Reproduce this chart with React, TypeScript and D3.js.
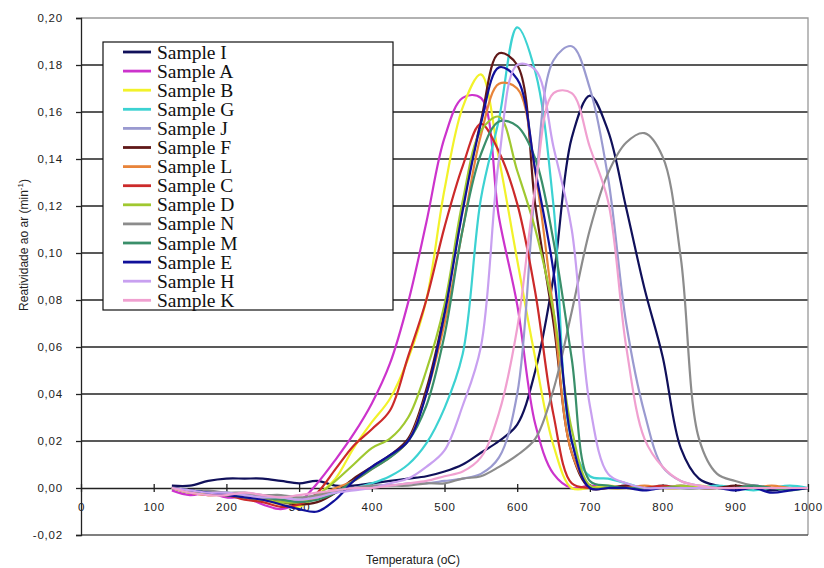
import React, { useEffect, useRef } from "react";
import * as d3 from "d3";

// temperatura (oC) onde os valores foram lidos
const temperatures = [
  125, 150, 175, 200, 225, 250, 275, 300, 325, 350, 375, 400, 425, 450, 475, 500, 525, 550,
  575, 600, 625, 650, 675, 700, 725, 750, 775, 800, 825, 850, 875, 900, 925, 950, 975, 1000,
];

const sampleI = [
  0.001, 0.001, 0.003, 0.004, 0.004, 0.004, 0.003, 0.002, 0.003, 0.001, 0.001, 0.002, 0.003, 0.004, 0.005, 0.007, 0.01, 0.015,
  0.02, 0.027, 0.05, 0.09, 0.149, 0.167, 0.152, 0.119, 0.085, 0.056, 0.017, 0.004, 0.001, 0.0, 0.0, -0.001, 0.0, 0.0,
];
const sampleA = [
  -0.001, -0.003, -0.002, -0.004, -0.004, -0.007, -0.009, -0.006, 0.002, 0.012, 0.023, 0.036, 0.053, 0.079, 0.113, 0.149, 0.166, 0.166,
  0.115, 0.078, 0.027, 0.006, 0.0, 0.001, 0.0, 0.001, 0.0, 0.0, 0.001, 0.0, 0.0, 0.0, 0.001, 0.0, 0.0, 0.0,
];
const sampleB = [
  0.0, -0.002, -0.003, -0.003, -0.004, -0.005, -0.007, -0.008, -0.003, 0.004, 0.017, 0.028, 0.038, 0.055, 0.08, 0.127, 0.162, 0.176,
  0.14, 0.097, 0.055, 0.018, 0.0, 0.0, 0.001, 0.0, 0.0, 0.0, 0.0, 0.001, 0.0, 0.0, 0.0, 0.0, 0.0, 0.0,
];
const sampleG = [
  0.0, -0.001, -0.002, -0.002, -0.003, -0.004, -0.004, -0.005, -0.004, -0.001, 0.0, 0.002, 0.005, 0.01, 0.019, 0.034, 0.057, 0.123,
  0.157, 0.196, 0.177, 0.12, 0.02, 0.005, 0.004, 0.002, 0.0, 0.001, 0.0, 0.0, 0.001, 0.0, -0.001, 0.0, 0.001, 0.0,
];
const sampleJ = [
  0.0, -0.001, -0.002, -0.003, -0.003, -0.004, -0.005, -0.005, -0.004, -0.002, 0.0, 0.001, 0.001, 0.002, 0.002, 0.003, 0.004, 0.006,
  0.013, 0.04, 0.128, 0.182, 0.188, 0.17, 0.132, 0.07, 0.032, 0.009, 0.003, 0.001, 0.0, 0.0, 0.001, 0.0, 0.0, 0.0,
];
const sampleF = [
  0.0, -0.001, -0.002, -0.003, -0.004, -0.005, -0.006, -0.007, -0.006, -0.002, 0.004, 0.009, 0.014, 0.021, 0.042, 0.075, 0.12, 0.156,
  0.185, 0.18, 0.12, 0.07, 0.015, 0.0, 0.0, 0.001, 0.0, 0.0, 0.0, 0.0, 0.0, 0.001, 0.0, 0.0, 0.0, 0.0,
];
const sampleL = [
  0.0, -0.001, -0.002, -0.003, -0.003, -0.004, -0.005, -0.006, -0.004, 0.0, 0.003, 0.008, 0.013, 0.02, 0.04, 0.07, 0.11, 0.15,
  0.172, 0.17, 0.134, 0.075, 0.015, 0.001, 0.0, 0.0, 0.001, 0.0, 0.0, 0.0, 0.0, 0.0, 0.0, 0.001, 0.0, 0.0,
];
const sampleC = [
  0.0, -0.002, -0.003, -0.003, -0.005, -0.006, -0.008, -0.007, -0.002, 0.008, 0.018, 0.025, 0.033, 0.056, 0.08, 0.111, 0.137, 0.155,
  0.143, 0.121, 0.083, 0.031, 0.002, 0.0, 0.0, 0.0, 0.0, 0.001, 0.0, 0.0, 0.0, 0.0, 0.0, 0.0, 0.0, 0.0,
];
const sampleD = [
  0.0, -0.002, -0.002, -0.003, -0.004, -0.005, -0.006, -0.006, -0.003, 0.003, 0.01, 0.017, 0.021, 0.03, 0.05, 0.078, 0.122, 0.152,
  0.158, 0.135, 0.11, 0.075, 0.025, 0.001, 0.0, 0.0, 0.0, 0.0, 0.001, 0.0, 0.0, 0.0, 0.0, 0.0, 0.0, 0.0,
];
const sampleN = [
  0.0, -0.001, -0.001, -0.002, -0.002, -0.003, -0.003, -0.004, -0.003, -0.001, 0.0, 0.001, 0.001, 0.001, 0.002, 0.002, 0.004, 0.005,
  0.009, 0.014, 0.021, 0.042, 0.075, 0.11, 0.134, 0.147, 0.151, 0.141, 0.098, 0.021, 0.006, 0.003, 0.001, 0.0, 0.0, 0.0,
];
const sampleM = [
  0.0, -0.001, -0.002, -0.003, -0.003, -0.004, -0.005, -0.006, -0.005, -0.002, 0.003, 0.008, 0.013, 0.02, 0.035, 0.065, 0.11, 0.142,
  0.156, 0.154, 0.14, 0.105, 0.055, 0.003, 0.001, 0.0, 0.0, 0.0, 0.0, 0.0, 0.0, 0.0, 0.001, 0.0, -0.001, 0.0,
];
const sampleE = [
  0.0, -0.001, -0.002, -0.003, -0.004, -0.005, -0.007, -0.009, -0.01, -0.005, 0.003, 0.009, 0.014, 0.02, 0.04, 0.074, 0.118, 0.155,
  0.179, 0.174, 0.135, 0.092, 0.02, 0.0, 0.0, 0.0, -0.001, 0.0, 0.0, 0.0, 0.0, -0.001, 0.0, -0.002, -0.001, 0.0,
];
const sampleH = [
  0.0, -0.001, -0.002, -0.002, -0.003, -0.004, -0.004, -0.005, -0.004, -0.002, -0.001, 0.0, 0.002, 0.004, 0.009, 0.016, 0.035, 0.06,
  0.14, 0.18, 0.178, 0.145, 0.11, 0.035, 0.006, 0.002, 0.0, 0.0, 0.0, 0.0, 0.0, 0.0, 0.0, 0.0, 0.0, 0.0,
];
const sampleK = [
  0.0, -0.002, -0.003, -0.003, -0.002, -0.003, -0.004, -0.003, -0.002, -0.001, 0.0, 0.0, 0.001, 0.002, 0.003, 0.005, 0.007, 0.013,
  0.032, 0.068, 0.128, 0.168, 0.168, 0.145, 0.122, 0.06, 0.021, 0.009, 0.003, 0.001, 0.0, 0.0, 0.0, 0.0, 0.0, 0.0,
];

const seriesNames = [
  "Sample I", "Sample A", "Sample B", "Sample G", "Sample J", "Sample F", "Sample L",
  "Sample C", "Sample D", "Sample N", "Sample M", "Sample E", "Sample H", "Sample K",
];
const seriesValues = [
  sampleI, sampleA, sampleB, sampleG, sampleJ, sampleF, sampleL,
  sampleC, sampleD, sampleN, sampleM, sampleE, sampleH, sampleK,
];
const seriesColors = [
  "#10105a", "#cc33cc", "#f2f22a", "#3cd2d2", "#9a9ad0", "#601818", "#e8843a",
  "#cc2a2a", "#a0c830", "#8c8c8c", "#3a8f6a", "#10109a", "#c8a0f0", "#f0a0d0",
];

const yTicks = [-0.02, 0, 0.02, 0.04, 0.06, 0.08, 0.1, 0.12, 0.14, 0.16, 0.18, 0.2];
const xTicks = [0, 100, 200, 300, 400, 500, 600, 700, 800, 900, 1000];

const App = () => {
  const svgRef = useRef<SVGSVGElement | null>(null);

  useEffect(() => {
    const svg = d3.select(svgRef.current);
    svg.selectAll("*").remove();

    const left = 81;
    const right = 808;
    const top = 18;
    const bottom = 535;
    const sans = "'Liberation Sans', Arial, sans-serif";

    const x = d3.scaleLinear().domain([0, 1000]).range([left, right]);
    const y = d3.scaleLinear().domain([-0.02, 0.2]).range([bottom, top]);
    const fmt = (v: number) => d3.format(".2f")(v).replace(".", ",").replace("−", "-");

    svg.append("rect").attr("width", 824).attr("height", 568).attr("fill", "#fff");

    // gridlines
    svg
      .append("g")
      .selectAll("line")
      .data(yTicks.filter((t) => t > 0.001 && t < 0.19))
      .enter()
      .append("line")
      .attr("x1", left)
      .attr("x2", right)
      .attr("y1", (d) => y(d))
      .attr("y2", (d) => y(d))
      .attr("stroke", "#222")
      .attr("stroke-width", 1.3);

    // plot frame (top, right, bottom)
    svg
      .append("path")
      .attr("d", `M${left},${y(0.2)}H${right}V${y(-0.02)}`)
      .attr("fill", "none")
      .attr("stroke", "#999")
      .attr("stroke-width", 1.3);
    svg
      .append("line")
      .attr("x1", left)
      .attr("x2", right)
      .attr("y1", y(-0.02))
      .attr("y2", y(-0.02))
      .attr("stroke", "#555")
      .attr("stroke-width", 1.3);

    // y axis
    const yAxis = svg
      .append("g")
      .attr("transform", `translate(${left},0)`)
      .call(d3.axisLeft(y).tickValues(yTicks).tickFormat((d) => fmt(+d)).tickSize(5).tickPadding(13));
    yAxis.select(".domain").attr("stroke", "#222").attr("stroke-width", 1.3);
    yAxis.selectAll(".tick line").attr("stroke", "#222").attr("stroke-width", 1.3);
    yAxis
      .selectAll("text")
      .style("font-family", sans)
      .style("font-size", "11.5px")
      .style("letter-spacing", "0.8px")
      .attr("fill", "#222");

    // x axis at zero
    const xAxis = svg
      .append("g")
      .attr("transform", `translate(0,${y(0)})`)
      .call(d3.axisBottom(x).tickValues(xTicks).tickFormat((d) => String(d)).tickSizeInner(4).tickSizeOuter(0).tickPadding(11));
    xAxis.select(".domain").attr("stroke", "#222").attr("stroke-width", 1.3);
    xAxis.selectAll(".tick line").attr("stroke", "#222").attr("stroke-width", 1.3).attr("y1", -4);
    xAxis
      .selectAll("text")
      .style("font-family", sans)
      .style("font-size", "11.5px")
      .style("letter-spacing", "0.8px")
      .attr("fill", "#222");

    // series
    const line = d3
      .line<number>()
      .x((_, i) => x(temperatures[i]))
      .y((d) => y(d))
      .curve(d3.curveCatmullRom.alpha(0.5));

    seriesValues.forEach((values, i) => {
      svg
        .append("path")
        .datum(values)
        .attr("fill", "none")
        .attr("stroke", seriesColors[i])
        .attr("stroke-width", 2.2)
        .attr("stroke-linejoin", "round")
        .attr("d", line);
    });

    // legend
    const legend = svg.append("g");
    legend
      .append("rect")
      .attr("x", 103)
      .attr("y", 42)
      .attr("width", 290)
      .attr("height", 268)
      .attr("fill", "#fff")
      .attr("stroke", "#111")
      .attr("stroke-width", 1.2);
    const rows = legend
      .selectAll("g.row")
      .data(seriesNames)
      .enter()
      .append("g")
      .attr("transform", (_, i) => `translate(0,${52 + i * 19.1})`);
    rows
      .append("line")
      .attr("x1", 123)
      .attr("x2", 151)
      .attr("stroke", (_, i) => seriesColors[i])
      .attr("stroke-width", 2.8);
    rows
      .append("text")
      .attr("x", 157)
      .attr("y", 6.5)
      .text((d) => d)
      .style("font-family", "'Liberation Serif', 'Times New Roman', serif")
      .style("font-size", "19.5px")
      .attr("fill", "#111");

    // axis titles
    svg
      .append("text")
      .attr("x", 413)
      .attr("y", 564)
      .attr("text-anchor", "middle")
      .style("font-family", sans)
      .style("font-size", "12px")
      .attr("fill", "#222")
      .text("Temperatura (oC)");

    const yTitle = svg
      .append("text")
      .attr("transform", "translate(28,245) rotate(-90)")
      .attr("text-anchor", "middle")
      .style("font-family", sans)
      .style("font-size", "12px")
      .attr("fill", "#222");
    yTitle.append("tspan").text("Reatividade ao ar (min");
    yTitle.append("tspan").attr("dy", -5).style("font-size", "8px").text("-1");
    yTitle.append("tspan").attr("dy", 5).text(")");
  }, []);

  return (
    <svg
      ref={svgRef}
      width={824}
      height={568}
      style={{ position: "absolute", left: 0, top: 0, display: "block" }}
    ></svg>
  );
};

export default App;
